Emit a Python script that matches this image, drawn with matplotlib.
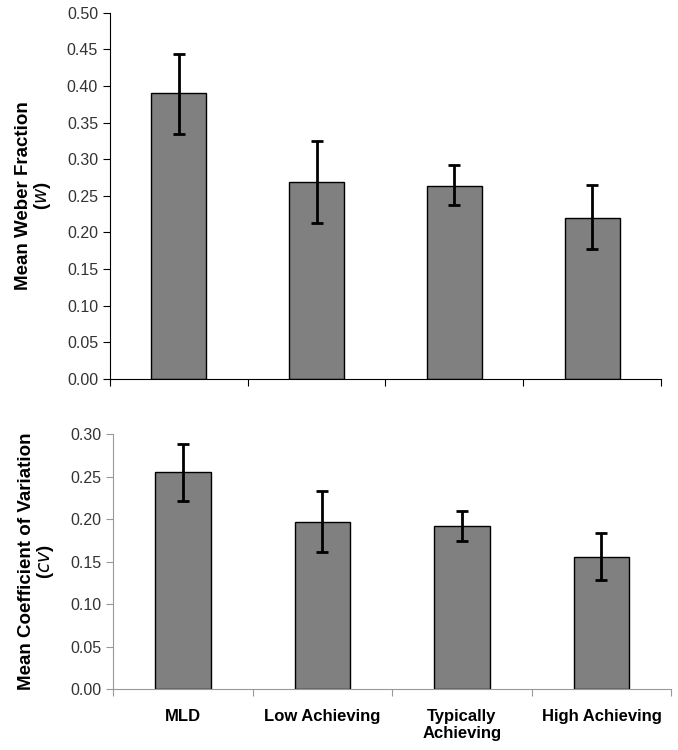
import matplotlib.pyplot as plt
import numpy as np

plt.rcParams['font.family'] = ['Liberation Sans', 'DejaVu Sans']

groups = ['MLD', 'Low Achieving', 'Typically\nAchieving', 'High Achieving']

# Weber fraction (w)
w_mean = [0.390, 0.269, 0.264, 0.220]
w_low = [0.335, 0.213, 0.237, 0.177]
w_high = [0.444, 0.325, 0.292, 0.265]

# coefficient of variation (cv)
cv_mean = [0.256, 0.197, 0.192, 0.156]
cv_low = [0.221, 0.161, 0.174, 0.128]
cv_high = [0.289, 0.233, 0.210, 0.184]

fig = plt.figure(figsize=(6.78, 7.5), dpi=100)
ax1 = fig.add_axes([0.162, 0.495, 0.813, 0.488])
ax2 = fig.add_axes([0.167, 0.081, 0.823, 0.340])

x = np.arange(len(groups))


def draw(ax, mean, low, high, ymax, ylabel, spine_color):
    err = [np.array(mean) - np.array(low), np.array(high) - np.array(mean)]
    ax.bar(x, mean, width=0.4, color='#808080', edgecolor='black', linewidth=1)
    ax.errorbar(x, mean, yerr=err, fmt='none', ecolor='black', elinewidth=2,
                capsize=4, capthick=2)
    ax.set_xlim(-0.5, len(groups) - 0.5)
    ax.set_ylim(0, ymax)
    ax.set_yticks(np.arange(0, ymax + 0.001, 0.05))
    ax.set_yticklabels(['%.2f' % v for v in np.arange(0, ymax + 0.001, 0.05)],
                       fontsize=11.5, color='#333333')
    ax.set_xticks(np.arange(-0.5, len(groups)), minor=False)
    ax.set_xticklabels([])
    ax.tick_params(axis='x', direction='out', length=5, color=spine_color)
    ax.tick_params(axis='y', direction='out', length=5, color=spine_color)
    for s in ['top', 'right']:
        ax.spines[s].set_visible(False)
    for s in ['left', 'bottom']:
        ax.spines[s].set_color(spine_color)
    ax.set_ylabel(ylabel, fontsize=13.5, fontweight='bold', linespacing=1.0,
                  labelpad=10)


draw(ax1, w_mean, w_low, w_high, 0.50, 'Mean Weber Fraction\n($\\mathit{w}$)', 'black')
draw(ax2, cv_mean, cv_low, cv_high, 0.30, 'Mean Coefficient of Variation\n($\\mathit{cv}$)', '#999999')

ax2.set_xticks(x, minor=True)
ax2.set_xticklabels(groups, minor=True, fontsize=12, fontweight='bold')
ax2.tick_params(axis='x', which='minor', length=0, pad=14)

fig.savefig('out.png', dpi=100)
